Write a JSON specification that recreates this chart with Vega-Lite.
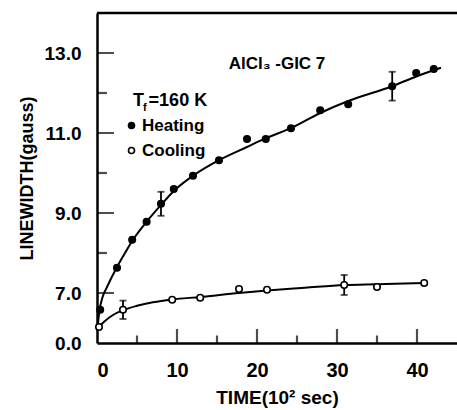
{
  "$schema": "https://vega.github.io/schema/vega-lite/v6.json",
  "width": 360,
  "height": 330,
  "autosize": {"type": "none"},
  "padding": {"left": 97, "top": 13, "right": 0, "bottom": 67},
  "background": "white",
  "config": {
    "view": {"stroke": null},
    "font": "Liberation Sans"
  },
  "datasets": {
    "points": [
      {"series": "Heating", "x": 0.4, "y": 6.58},
      {"series": "Heating", "x": 2.5, "y": 7.63},
      {"series": "Heating", "x": 4.4, "y": 8.33},
      {"series": "Heating", "x": 6.2, "y": 8.78},
      {"series": "Heating", "x": 8.0, "y": 9.23},
      {"series": "Heating", "x": 9.6, "y": 9.6},
      {"series": "Heating", "x": 12.0, "y": 9.93},
      {"series": "Heating", "x": 15.25, "y": 10.32},
      {"series": "Heating", "x": 18.75, "y": 10.85},
      {"series": "Heating", "x": 21.1, "y": 10.85},
      {"series": "Heating", "x": 24.25, "y": 11.12},
      {"series": "Heating", "x": 27.9, "y": 11.57},
      {"series": "Heating", "x": 31.4, "y": 11.72},
      {"series": "Heating", "x": 36.9, "y": 12.17},
      {"series": "Heating", "x": 39.9, "y": 12.5},
      {"series": "Heating", "x": 42.1, "y": 12.6},
      {"series": "Cooling", "x": 0.25, "y": 6.15},
      {"series": "Cooling", "x": 3.25, "y": 6.58},
      {"series": "Cooling", "x": 9.4, "y": 6.83},
      {"series": "Cooling", "x": 12.9, "y": 6.88},
      {"series": "Cooling", "x": 17.75, "y": 7.1},
      {"series": "Cooling", "x": 21.25, "y": 7.08},
      {"series": "Cooling", "x": 30.9, "y": 7.2},
      {"series": "Cooling", "x": 35.0, "y": 7.15},
      {"series": "Cooling", "x": 40.9, "y": 7.25}
    ],
    "curves": [
      {"series": "Heating", "x": 0.05, "y": 6.1},
      {"series": "Heating", "x": 0.3, "y": 6.55},
      {"series": "Heating", "x": 0.7, "y": 6.9},
      {"series": "Heating", "x": 1.25, "y": 7.15},
      {"series": "Heating", "x": 2.5, "y": 7.65},
      {"series": "Heating", "x": 3.5, "y": 8.0},
      {"series": "Heating", "x": 4.5, "y": 8.33},
      {"series": "Heating", "x": 6.2, "y": 8.78},
      {"series": "Heating", "x": 8.0, "y": 9.2},
      {"series": "Heating", "x": 9.6, "y": 9.55},
      {"series": "Heating", "x": 12.0, "y": 9.93},
      {"series": "Heating", "x": 15.25, "y": 10.32},
      {"series": "Heating", "x": 18.75, "y": 10.65},
      {"series": "Heating", "x": 21.1, "y": 10.87},
      {"series": "Heating", "x": 24.25, "y": 11.12},
      {"series": "Heating", "x": 27.9, "y": 11.5},
      {"series": "Heating", "x": 31.4, "y": 11.8},
      {"series": "Heating", "x": 36.9, "y": 12.17},
      {"series": "Heating", "x": 40.0, "y": 12.42},
      {"series": "Heating", "x": 43.0, "y": 12.63},
      {"series": "Cooling", "x": 0.0, "y": 6.08},
      {"series": "Cooling", "x": 0.25, "y": 6.15},
      {"series": "Cooling", "x": 1.0, "y": 6.3},
      {"series": "Cooling", "x": 2.0, "y": 6.45},
      {"series": "Cooling", "x": 3.25, "y": 6.57},
      {"series": "Cooling", "x": 5.0, "y": 6.68},
      {"series": "Cooling", "x": 7.0, "y": 6.77},
      {"series": "Cooling", "x": 9.4, "y": 6.84},
      {"series": "Cooling", "x": 12.9, "y": 6.9},
      {"series": "Cooling", "x": 17.75, "y": 7.0},
      {"series": "Cooling", "x": 21.25, "y": 7.06},
      {"series": "Cooling", "x": 26.0, "y": 7.13},
      {"series": "Cooling", "x": 30.9, "y": 7.2},
      {"series": "Cooling", "x": 35.0, "y": 7.22},
      {"series": "Cooling", "x": 40.9, "y": 7.25}
    ],
    "errors": [
      {"series": "Heating", "x": 8.0, "lo": 8.93, "hi": 9.53},
      {"series": "Heating", "x": 36.9, "lo": 11.81, "hi": 12.53},
      {"series": "Cooling", "x": 3.25, "lo": 6.35, "hi": 6.81},
      {"series": "Cooling", "x": 30.9, "lo": 6.95, "hi": 7.45}
    ],
    "ymajor": [{"x": 0, "y": 7}, {"x": 0, "y": 9}, {"x": 0, "y": 11}, {"x": 0, "y": 13}],
    "yminor": [{"x": 0, "y": 8}, {"x": 0, "y": 10}, {"x": 0, "y": 12}],
    "xmajor": [{"x": 10, "y": 5.75}, {"x": 20, "y": 5.75}, {"x": 30, "y": 5.75}, {"x": 40, "y": 5.75}],
    "xminor": [{"x": 5, "y": 5.75}, {"x": 15, "y": 5.75}, {"x": 25, "y": 5.75}, {"x": 35, "y": 5.75}],
    "frame": [{"y": 14.0}],
    "title": [{"x": 22.5, "y": 12.72, "text": "AlCl₃ -GIC 7"}],
    "tf_big": [{"x": 4.5, "y": 11.8, "text": "T"}, {"x": 6.45, "y": 11.8, "text": "=160 K"}],
    "tf_small": [{"x": 5.75, "y": 11.62, "text": "f"}]
  },
  "layer": [
    {
      "data": {"name": "frame"},
      "mark": {"type": "rule", "color": "black", "strokeWidth": 2.5},
      "encoding": {
        "y": {
          "field": "y", "type": "quantitative", "title": "LINEWIDTH(gauss)",
          "scale": {"domain": [5.75, 14.0], "nice": false, "zero": false},
          "axis": {
            "values": [5.75, 7, 9, 11, 13],
            "labelExpr": "datum.value < 6 ? '0.0' : format(datum.value, '.1f')",
            "grid": false, "domainColor": "black", "domainWidth": 2.5,
            "ticks": false,
            "labelColor": "black", "labelFontSize": 19, "labelFontWeight": "bold", "labelPadding": 16,
            "titleColor": "black", "titleFontSize": 18, "titleFontWeight": "bold", "titlePadding": 8
          }
        }
      }
    },
    {
      "data": {"name": "curves"},
      "mark": {"type": "line", "color": "black", "interpolate": "monotone", "strokeWidth": 2},
      "encoding": {
        "x": {
          "field": "x", "type": "quantitative", "title": "TIME(10² sec)",
          "scale": {"domain": [0, 45], "nice": false},
          "axis": {
            "values": [0, 10, 20, 30, 40],
            "grid": false, "domainColor": "black", "domainWidth": 2.5,
            "ticks": false,
            "labelColor": "black", "labelFontSize": 20, "labelFontWeight": "bold", "labelPadding": 17,
            "titleColor": "black", "titleFontSize": 19, "titleFontWeight": "bold", "titlePadding": 8
          }
        },
        "y": {"field": "y", "type": "quantitative"},
        "detail": {"field": "series"}
      }
    },
    {
      "data": {"name": "ymajor"},
      "mark": {"type": "tick", "orient": "horizontal", "color": "black", "size": 34, "thickness": 2.2, "clip": true},
      "encoding": {
        "x": {"field": "x", "type": "quantitative"},
        "y": {"field": "y", "type": "quantitative"}
      }
    },
    {
      "data": {"name": "yminor"},
      "mark": {"type": "tick", "orient": "horizontal", "color": "black", "size": 20, "thickness": 2.2, "clip": true},
      "encoding": {
        "x": {"field": "x", "type": "quantitative"},
        "y": {"field": "y", "type": "quantitative"}
      }
    },
    {
      "data": {"name": "xmajor"},
      "mark": {"type": "tick", "orient": "vertical", "color": "black", "size": 28, "thickness": 2.2, "clip": true},
      "encoding": {
        "x": {"field": "x", "type": "quantitative"},
        "y": {"field": "y", "type": "quantitative"}
      }
    },
    {
      "data": {"name": "xminor"},
      "mark": {"type": "tick", "orient": "vertical", "color": "black", "size": 15, "thickness": 2.2, "clip": true},
      "encoding": {
        "x": {"field": "x", "type": "quantitative"},
        "y": {"field": "y", "type": "quantitative"}
      }
    },
    {
      "data": {"name": "errors"},
      "mark": {"type": "rule", "color": "black", "strokeWidth": 1.8},
      "encoding": {
        "x": {"field": "x", "type": "quantitative"},
        "y": {"field": "lo", "type": "quantitative"},
        "y2": {"field": "hi"}
      }
    },
    {
      "data": {"name": "errors"},
      "mark": {"type": "tick", "orient": "horizontal", "color": "black", "size": 7, "thickness": 1.8},
      "encoding": {
        "x": {"field": "x", "type": "quantitative"},
        "y": {"field": "lo", "type": "quantitative"}
      }
    },
    {
      "data": {"name": "errors"},
      "mark": {"type": "tick", "orient": "horizontal", "color": "black", "size": 7, "thickness": 1.8},
      "encoding": {
        "x": {"field": "x", "type": "quantitative"},
        "y": {"field": "hi", "type": "quantitative"}
      }
    },
    {
      "data": {"name": "points"},
      "mark": {"type": "point", "shape": "circle", "filled": true, "size": 42, "stroke": "black", "strokeWidth": 1.6, "opacity": 1},
      "encoding": {
        "x": {"field": "x", "type": "quantitative"},
        "y": {"field": "y", "type": "quantitative"},
        "fill": {
          "field": "series", "type": "nominal",
          "scale": {"domain": ["Heating", "Cooling"], "range": ["black", "white"]},
          "legend": {
            "orient": "none", "legendX": 26, "legendY": 104, "title": null,
            "symbolType": "circle", "symbolSize": 36, "symbolStrokeColor": "black", "symbolStrokeWidth": 1.6,
            "labelFontSize": 17, "labelFontWeight": "bold", "labelColor": "black", "labelOffset": 2,
            "rowPadding": 7, "padding": 0
          }
        }
      }
    },
    {
      "data": {"name": "title"},
      "mark": {"type": "text", "fontSize": 17, "fontWeight": "bold", "color": "black", "align": "center", "baseline": "middle"},
      "encoding": {
        "x": {"field": "x", "type": "quantitative"},
        "y": {"field": "y", "type": "quantitative"},
        "text": {"field": "text"}
      }
    },
    {
      "data": {"name": "tf_big"},
      "mark": {"type": "text", "fontSize": 18, "fontWeight": "bold", "color": "black", "align": "left", "baseline": "middle"},
      "encoding": {
        "x": {"field": "x", "type": "quantitative"},
        "y": {"field": "y", "type": "quantitative"},
        "text": {"field": "text"}
      }
    },
    {
      "data": {"name": "tf_small"},
      "mark": {"type": "text", "fontSize": 11, "fontWeight": "bold", "color": "black", "align": "left", "baseline": "middle"},
      "encoding": {
        "x": {"field": "x", "type": "quantitative"},
        "y": {"field": "y", "type": "quantitative"},
        "text": {"field": "text"}
      }
    }
  ]
}
